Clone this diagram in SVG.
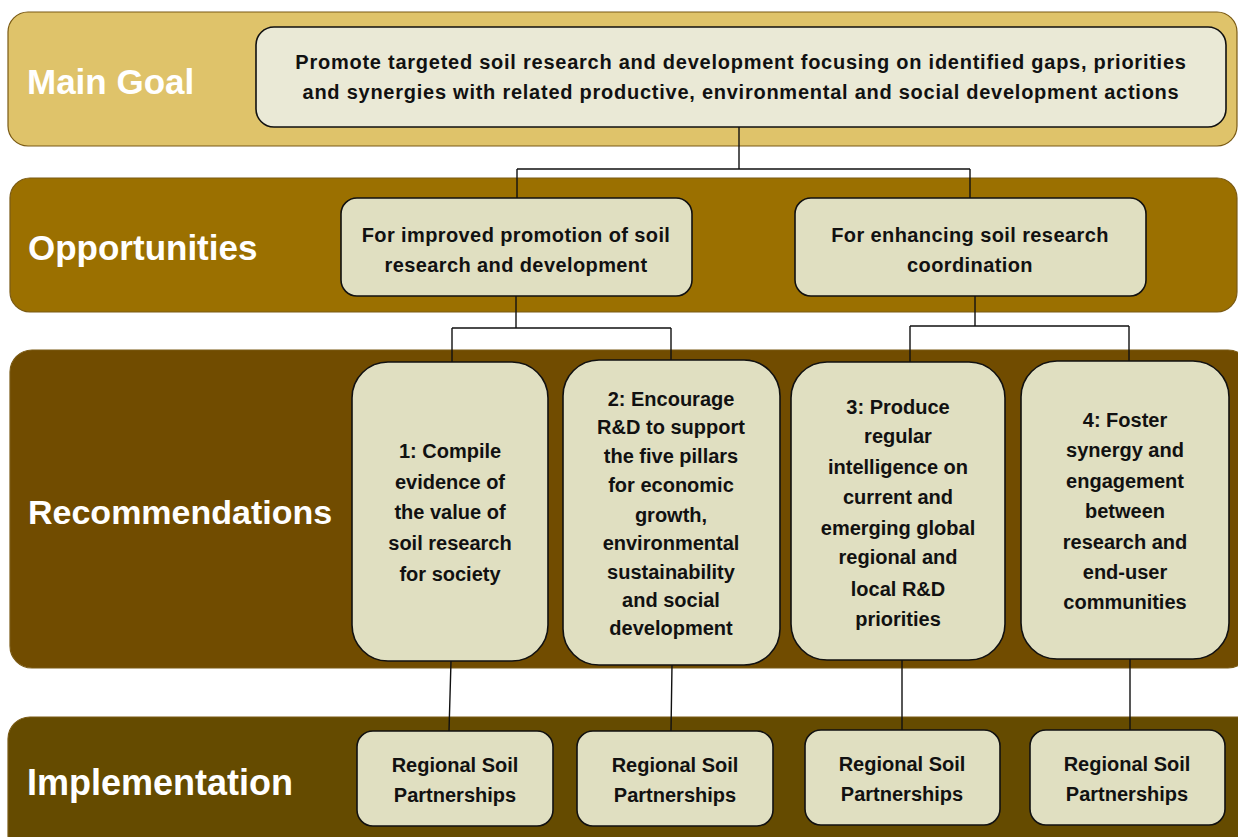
<svg xmlns="http://www.w3.org/2000/svg" width="1238" height="837" viewBox="0 0 1238 837">
<style>
.band{stroke:#7a5a14;stroke-width:1.2}
.box{fill:#E0DFC1;stroke:#111;stroke-width:1.6}
.lbl{font-family:"Liberation Sans",Arial,sans-serif;font-weight:bold;font-size:35px;fill:#fff}
.t{font-family:"Liberation Sans",Arial,sans-serif;font-weight:bold;font-size:20px;fill:#111;text-anchor:middle}
.c{fill:none;stroke:#111;stroke-width:1.4}
</style>
<rect width="1238" height="837" fill="#fff"/>
<g id="band-main"><rect class="band" x="8" y="12" width="1229" height="134" rx="20" fill="#DFC36A"/><text class="lbl" x="27" y="94">Main Goal</text></g>
<g id="band-opp"><rect class="band" x="10" y="178" width="1227" height="134" rx="20" fill="#9B7000"/><text class="lbl" x="28" y="260">Opportunities</text></g>
<g id="band-rec"><rect class="band" x="10" y="350" width="1240" height="318" rx="22" fill="#714C00"/><text class="lbl" x="28" y="524" style="font-size:34px">Recommendations</text></g>
<g id="band-impl"><rect class="band" x="8" y="717" width="1250" height="140" rx="22" fill="#654B00"/><text class="lbl" x="27" y="795" style="font-size:36px">Implementation</text></g>

<g id="connectors">
<path class="c" d="M739,127 V169 M517,169 H970 M517,169 V198 M970,169 V198"/>
<path class="c" d="M516,296 V328 M452,328 H671 M452,328 V362 M671,328 V360"/>
<path class="c" d="M975,296 V326 M910,326 H1129 M910,326 V362 M1129,326 V361"/>
<path class="c" d="M451,661 L449,731 M672,665 L671,731 M902,660 V730 M1130,659 V730"/>
</g>

<g id="goal"><rect x="256" y="27" width="970" height="100" rx="18" fill="#EAE9D6" stroke="#111" stroke-width="1.6"/>
<text class="t" style="font-size:20px;letter-spacing:0.75px"><tspan x="741" y="69">Promote targeted soil research and development focusing on identified gaps, priorities</tspan><tspan x="741" y="99">and synergies with related productive, environmental and social development actions</tspan></text></g>

<g id="opp1"><rect class="box" x="341" y="198" width="351" height="98" rx="16"/>
<text class="t" style="letter-spacing:0.4px"><tspan x="516" y="242">For improved promotion of soil</tspan><tspan x="516" y="272">research and development</tspan></text></g>
<g id="opp2"><rect class="box" x="795" y="198" width="351" height="98" rx="16"/>
<text class="t" style="letter-spacing:0.4px"><tspan x="970" y="242">For enhancing soil research</tspan><tspan x="970" y="272">coordination</tspan></text></g>

<g id="rec1"><rect class="box" x="352" y="362" width="196" height="299" rx="36"/>
<text class="t"><tspan x="450" y="458">1: Compile</tspan><tspan x="450" y="489">evidence of</tspan><tspan x="450" y="519">the value of</tspan><tspan x="450" y="550">soil research</tspan><tspan x="450" y="581">for society</tspan></text></g>
<g id="rec2"><rect class="box" x="563" y="360" width="217" height="305" rx="36"/>
<text class="t"><tspan x="671" y="406">2: Encourage</tspan><tspan x="671" y="434">R&amp;D to support</tspan><tspan x="671" y="463">the five pillars</tspan><tspan x="671" y="492">for economic</tspan><tspan x="671" y="522">growth,</tspan><tspan x="671" y="550">environmental</tspan><tspan x="671" y="579">sustainability</tspan><tspan x="671" y="607">and social</tspan><tspan x="671" y="635">development</tspan></text></g>
<g id="rec3"><rect class="box" x="791" y="362" width="214" height="298" rx="36"/>
<text class="t"><tspan x="898" y="414">3: Produce</tspan><tspan x="898" y="443">regular</tspan><tspan x="898" y="474">intelligence on</tspan><tspan x="898" y="504">current and</tspan><tspan x="898" y="535">emerging global</tspan><tspan x="898" y="564">regional and</tspan><tspan x="898" y="596">local R&amp;D</tspan><tspan x="898" y="626">priorities</tspan></text></g>
<g id="rec4"><rect class="box" x="1021" y="361" width="208" height="298" rx="36"/>
<text class="t"><tspan x="1125" y="427">4: Foster</tspan><tspan x="1125" y="457">synergy and</tspan><tspan x="1125" y="488">engagement</tspan><tspan x="1125" y="518">between</tspan><tspan x="1125" y="549">research and</tspan><tspan x="1125" y="579">end-user</tspan><tspan x="1125" y="609">communities</tspan></text></g>

<g id="impl1"><rect class="box" x="357" y="731" width="196" height="95" rx="16"/>
<text class="t"><tspan x="455" y="772">Regional Soil</tspan><tspan x="455" y="802">Partnerships</tspan></text></g>
<g id="impl2"><rect class="box" x="577" y="731" width="196" height="95" rx="16"/>
<text class="t"><tspan x="675" y="772">Regional Soil</tspan><tspan x="675" y="802">Partnerships</tspan></text></g>
<g id="impl3"><rect class="box" x="805" y="730" width="195" height="95" rx="16"/>
<text class="t"><tspan x="902" y="771">Regional Soil</tspan><tspan x="902" y="801">Partnerships</tspan></text></g>
<g id="impl4"><rect class="box" x="1030" y="730" width="195" height="95" rx="16"/>
<text class="t"><tspan x="1127" y="771">Regional Soil</tspan><tspan x="1127" y="801">Partnerships</tspan></text></g>
</svg>
